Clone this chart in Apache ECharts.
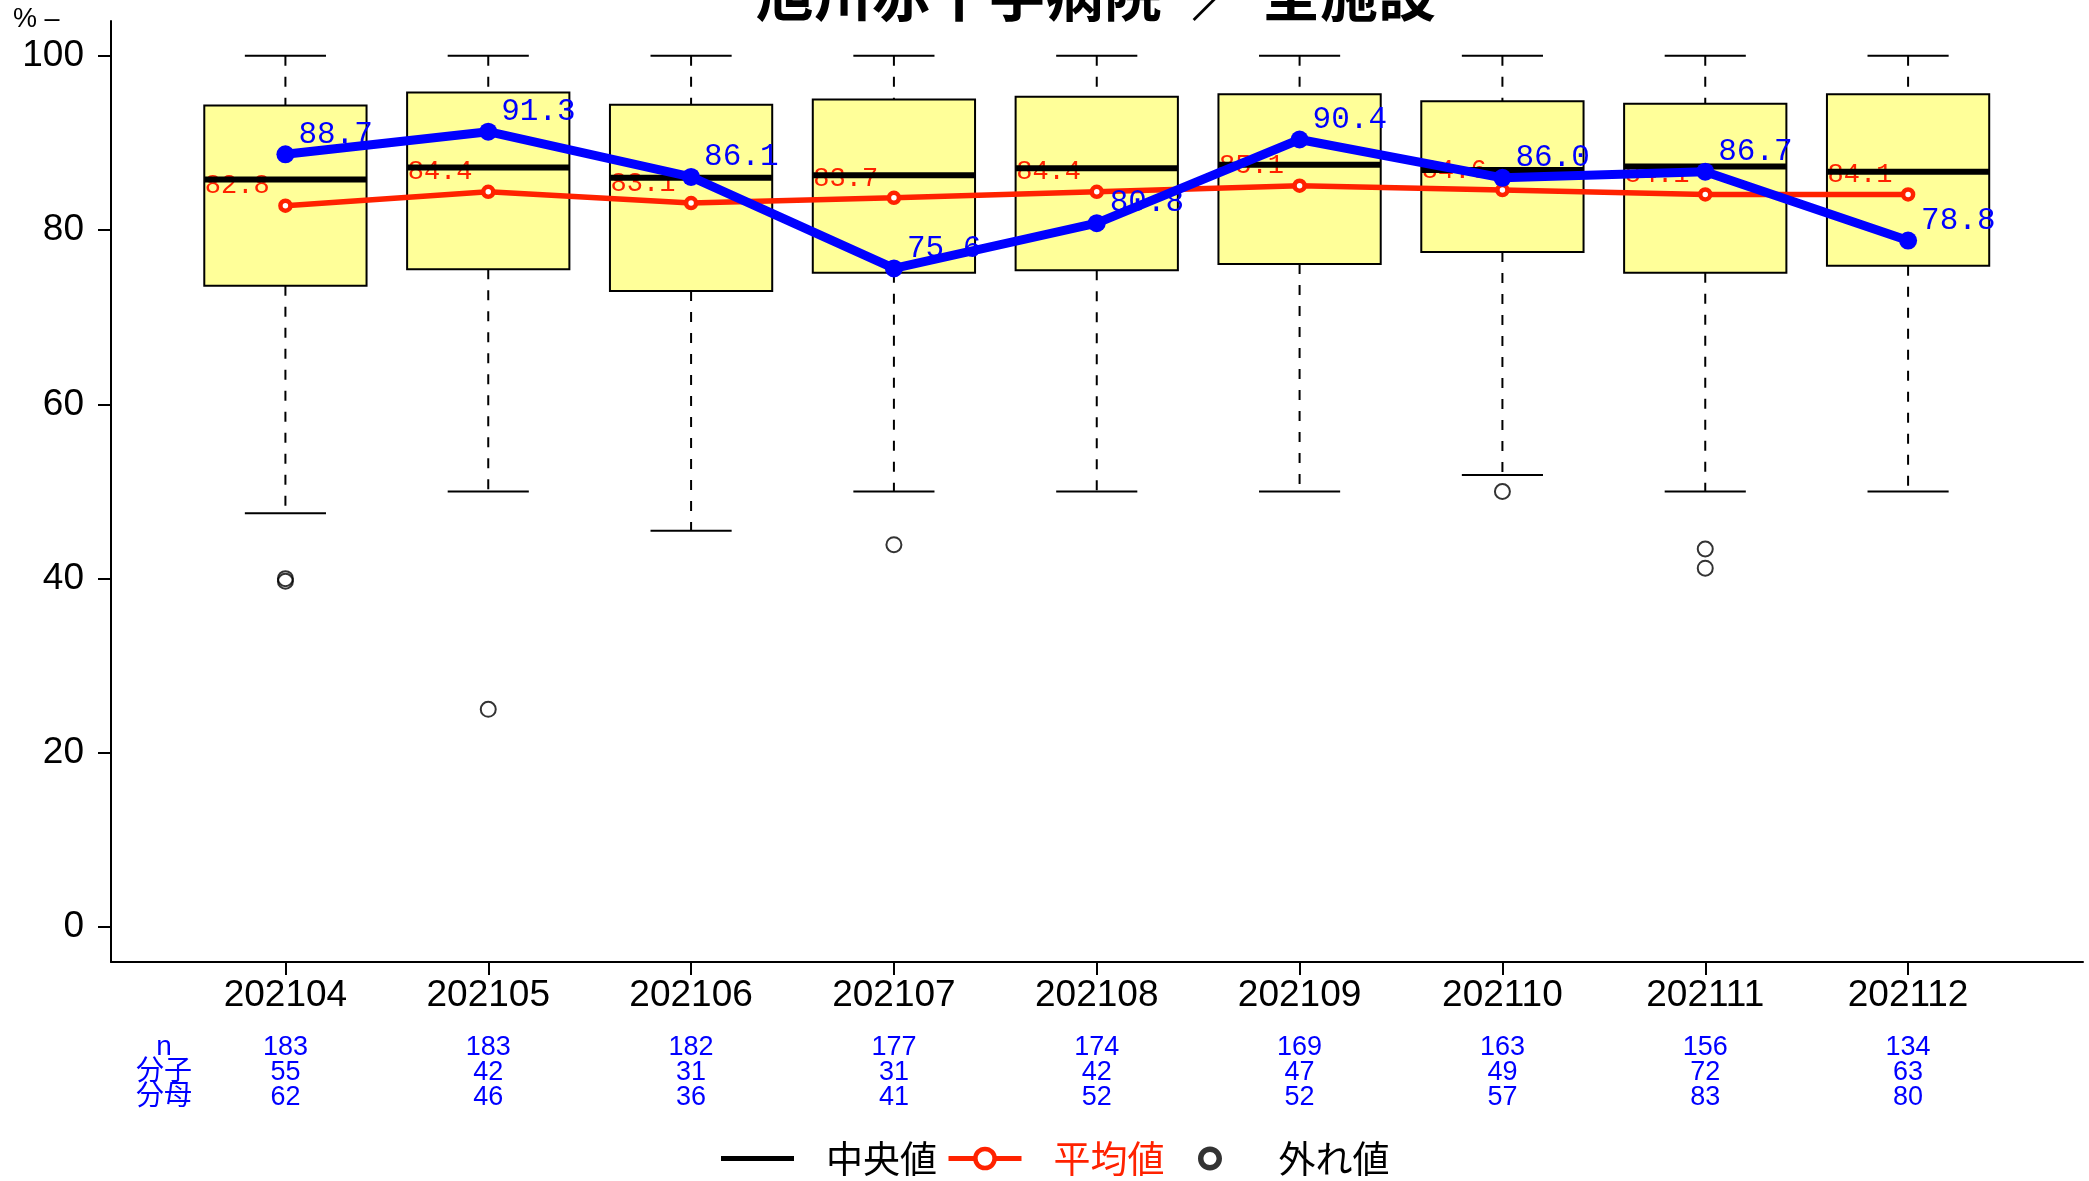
<!DOCTYPE html>
<html>
<head>
<meta charset="utf-8">
<script src="https://cdn.jsdelivr.net/npm/echarts@6/dist/echarts.min.js"></script>
<style>
  html, body { margin: 0; padding: 0; background: #fff; }
  #chart { width: 2089px; height: 1181px; }
</style>
</head>
<body>
<div id="chart"></div>
<script>
// Monthly distribution across all facilities (box statistics, %)
const months      = ['202104', '202105', '202106', '202107', '202108', '202109', '202110', '202111', '202112'];
const whiskerLow  = [47.5, 50.0, 45.5, 50.0, 50.0, 50.0, 51.9, 50.0, 50.0];
const q1          = [73.6, 75.5, 73.0, 75.1, 75.4, 76.1, 77.5, 75.1, 75.9];
const median      = [85.8, 87.2, 86.0, 86.3, 87.1, 87.5, 86.9, 87.3, 86.7];
const q3          = [94.3, 95.8, 94.4, 95.0, 95.3, 95.6, 94.8, 94.5, 95.6];
const whiskerHigh = [100, 100, 100, 100, 100, 100, 100, 100, 100];

// Mean of all facilities and this hospital's own rate
const meanAll  = [82.8, 84.4, 83.1, 83.7, 84.4, 85.1, 84.6, 84.1, 84.1];
const rateHosp = [88.7, 91.3, 86.1, 75.6, 80.8, 90.4, 86.0, 86.7, 78.8];

// Outlying facilities
const outlierMonth = ['202104', '202104', '202105', '202107', '202110', '202111', '202111'];
const outlierValue = [40.0, 39.7, 25.0, 43.9, 50.0, 43.4, 41.2];

// Counts shown under the axis
const nCount = [183, 183, 182, 177, 174, 169, 163, 156, 134];
const numer  = [55, 42, 31, 31, 42, 47, 49, 72, 63];
const denom  = [62, 46, 36, 41, 52, 52, 57, 83, 80];

const yTicks = [0, 20, 40, 60, 80, 100];

const RED = '#ff2200';
const BLUE = '#0000ff';
const YELLOW = '#ffff99';
const SANS = 'Liberation Sans, Arial, sans-serif';
const MONO = 'Liberation Mono, monospace';
const CJK = 'Noto Sans CJK JP, sans-serif';

// Legend glyphs drawn inside a 73x24 box (the leading moves pin the box size)
const ICON_MEDIAN = 'path://M0,0M73,24M0,9.5H73V14.5H0Z';
const ICON_OUTLIER = 'path://M0,0M73,24'
  + 'M48.5,12C48.5,18.627 43.127,24 36.5,24C29.873,24 24.5,18.627 24.5,12'
  + 'C24.5,5.373 29.873,0 36.5,0C43.127,0 48.5,5.373 48.5,12Z'
  + 'M43,12C43,8.410 40.090,5.5 36.5,5.5C32.910,5.5 30,8.410 30,12'
  + 'C30,15.590 32.910,18.5 36.5,18.5C40.090,18.5 43,15.590 43,12Z';

const boxData = months.map((m, i) => [i, whiskerLow[i], q1[i], median[i], q3[i], whiskerHigh[i]]);
const medianData = months.map((m, i) => [i, median[i]]);
const outlierData = outlierMonth.map((m, i) => [m, outlierValue[i]]);

const chart = echarts.init(document.getElementById('chart'), null, { renderer: 'canvas' });

const frameGrid = { left: 111, right: 6, top: 21, bottom: 219 };
const dataGrid  = { left: 184, right: 79.5, top: 21, bottom: 219 };
const statGrid  = { left: 184, right: 79.5, top: 1000, bottom: 146 };

function renderBox(params, api) {
  const x = api.value(0);
  const pLow = api.coord([x, api.value(1)]);
  const pQ1 = api.coord([x, api.value(2)]);
  const pQ3 = api.coord([x, api.value(4)]);
  const pHigh = api.coord([x, api.value(5)]);
  const bw = api.size([1, 0])[0] * 0.8;
  const cx = pQ1[0];
  const dashed = { stroke: '#000', lineWidth: 2, lineDash: [10, 11], fill: null };
  const solid = { stroke: '#000', lineWidth: 2, fill: null };
  return {
    type: 'group',
    children: [
      { type: 'line', shape: { x1: cx, y1: pHigh[1], x2: cx, y2: pQ3[1] }, style: dashed },
      { type: 'line', shape: { x1: cx, y1: pQ1[1], x2: cx, y2: pLow[1] }, style: dashed },
      { type: 'line', shape: { x1: cx - bw / 4, y1: pHigh[1], x2: cx + bw / 4, y2: pHigh[1] }, style: solid },
      { type: 'line', shape: { x1: cx - bw / 4, y1: pLow[1], x2: cx + bw / 4, y2: pLow[1] }, style: solid },
      { type: 'rect', shape: { x: cx - bw / 2, y: pQ3[1], width: bw, height: pQ1[1] - pQ3[1] },
        style: { fill: YELLOW, stroke: '#000', lineWidth: 2 } }
    ]
  };
}

function renderMedian(params, api) {
  const p = api.coord([api.value(0), api.value(1)]);
  const bw = api.size([1, 0])[0] * 0.8;
  return {
    type: 'line',
    shape: { x1: p[0] - bw / 2, y1: p[1], x2: p[0] + bw / 2, y2: p[1] },
    style: { stroke: '#000', lineWidth: 6 }
  };
}

const option = {
  animation: false,
  backgroundColor: '#fff',
  grid: [
    Object.assign({ containLabel: false }, frameGrid),
    Object.assign({ containLabel: false }, dataGrid),
    Object.assign({ containLabel: false }, statGrid)
  ],
  xAxis: [
    { // outer frame line
      gridIndex: 0, type: 'value', min: 0, max: 1,
      axisLine: { show: true, onZero: false, lineStyle: { color: '#000', width: 2 } },
      axisTick: { show: false }, axisLabel: { show: false }, splitLine: { show: false }
    },
    { // month categories
      gridIndex: 1, type: 'category', data: months, boundaryGap: true,
      axisLine: { show: false, onZero: false },
      axisTick: { show: true, alignWithLabel: true, length: 13, lineStyle: { color: '#000', width: 2 } },
      axisLabel: { show: true, interval: 0, margin: 15, fontSize: 37, fontFamily: SANS, color: '#000' },
      splitLine: { show: false }
    },
    { // counts under each month
      gridIndex: 2, type: 'category', data: months, boundaryGap: true,
      axisLine: { show: false, onZero: false }, axisTick: { show: false },
      axisLabel: {
        show: true, interval: 0, margin: 0, fontSize: 27, lineHeight: 25,
        fontFamily: SANS, color: BLUE,
        formatter: (v, i) => nCount[i] + '\n' + numer[i] + '\n' + denom[i]
      },
      splitLine: { show: false }
    }
  ],
  yAxis: [
    {
      gridIndex: 0, type: 'value', min: -4, max: 104,
      axisLine: { show: true, onZero: false, lineStyle: { color: '#000', width: 2 } },
      axisTick: { show: true, length: 13, customValues: yTicks, lineStyle: { color: '#000', width: 2 } },
      axisLabel: { show: true, margin: 27, customValues: yTicks, fontSize: 37, fontFamily: SANS, color: '#000',
                   padding: [6, 0, 0, 0] },
      splitLine: { show: false }
    },
    {
      gridIndex: 1, type: 'value', min: -4, max: 104, show: false,
      axisLine: { show: false }, axisTick: { show: false }, axisLabel: { show: false }, splitLine: { show: false }
    },
    {
      gridIndex: 2, type: 'value', min: 0, max: 1, show: false,
      axisLine: { show: false }, axisTick: { show: false }, axisLabel: { show: false }, splitLine: { show: false }
    }
  ],
  legend: {
    left: 721, top: 1140, padding: 0, itemGap: 9,
    itemWidth: 73, itemHeight: 24, selectedMode: false,
    textStyle: { fontSize: 37, lineHeight: 37, fontFamily: CJK, color: '#000', padding: [0, 0, 0, 27] },
    data: [
      { name: '中央値', icon: ICON_MEDIAN },
      { name: '平均値',
        textStyle: { color: RED, fontSize: 37, fontFamily: CJK, padding: [0, 0, 0, 27] },
        lineStyle: { color: RED, width: 5 },
        itemStyle: { color: '#fff', borderColor: RED, borderWidth: 4.5 } },
      { name: '外れ値', icon: ICON_OUTLIER, itemStyle: { color: '#000', borderWidth: 0 } }
    ]
  },
  graphic: [
    {
      type: 'text', x: 1096, y: -6, silent: true,
      style: { text: '旭川赤十字病院\u2002／ 全施設', fontSize: 58, fontWeight: 'bold', fontFamily: CJK,
               fill: '#000', align: 'center', verticalAlign: 'middle' }
    },
    {
      type: 'text', x: 13, y: 20, silent: true,
      style: { text: '% –', fontSize: 27, fontFamily: SANS, fill: '#000', align: 'left', verticalAlign: 'middle' }
    },
    {
      type: 'text', x: 164, y: 1035, silent: true,
      style: { text: 'n\n分子\n分母', fontSize: 28, lineHeight: 25, fontFamily: SANS + ', ' + CJK,
               fill: BLUE, align: 'center', verticalAlign: 'top' }
    }
  ],
  series: [
    {
      name: '箱', type: 'custom', xAxisIndex: 1, yAxisIndex: 1, z: 1, silent: true,
      renderItem: renderBox, encode: { x: 0, y: [1, 2, 3, 4, 5] }, data: boxData
    },
    {
      name: '外れ値', type: 'scatter', xAxisIndex: 1, yAxisIndex: 1, z: 1, silent: true,
      symbol: 'circle', symbolSize: 15,
      itemStyle: { color: 'rgba(0,0,0,0)', borderColor: '#000', borderWidth: 2 },
      data: outlierData
    },
    {
      name: '平均値', type: 'line', xAxisIndex: 1, yAxisIndex: 1, z: 2, silent: true,
      data: meanAll, symbol: 'circle', symbolSize: 10,
      lineStyle: { color: RED, width: 5.5 },
      itemStyle: { color: '#fff', borderColor: RED, borderWidth: 4.5 },
      label: {
        show: true, position: 'left', distance: 8.5, offset: [0, -19.5],
        fontSize: 27, fontFamily: MONO, color: RED,
        formatter: p => p.value.toFixed(1)
      }
    },
    {
      name: '中央線', type: 'custom', xAxisIndex: 1, yAxisIndex: 1, z: 3, silent: true,
      renderItem: renderMedian, encode: { x: 0, y: 1 }, data: medianData
    },
    {
      name: '当院', type: 'line', xAxisIndex: 1, yAxisIndex: 1, z: 4, silent: true,
      data: rateHosp, symbol: 'circle', symbolSize: 18,
      lineStyle: { color: BLUE, width: 9 },
      itemStyle: { color: BLUE },
      label: {
        show: true, position: 'right', distance: 4, offset: [0, -20],
        fontSize: 31, fontFamily: MONO, color: BLUE,
        formatter: p => p.value.toFixed(1)
      }
    },
    {
      name: '中央値', type: 'line', xAxisIndex: 1, yAxisIndex: 1, silent: true,
      data: [], symbol: 'none',
      lineStyle: { color: '#000', width: 5 },
      itemStyle: { color: '#000', borderWidth: 0 }
    }
  ]
};

chart.setOption(option);
</script>
</body>
</html>
